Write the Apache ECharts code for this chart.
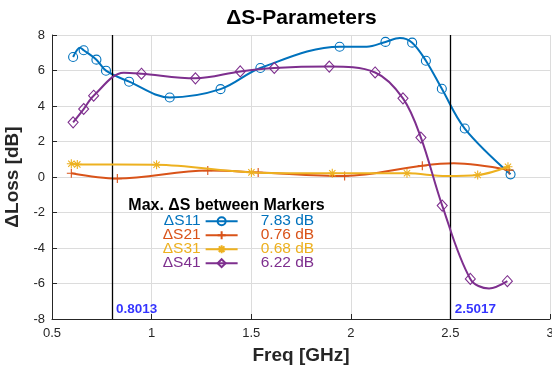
<!DOCTYPE html>
<html>
<head>
<meta charset="utf-8">
<script src="https://cdn.jsdelivr.net/npm/echarts@6/dist/echarts.min.js"></script>
<style>
  html, body { margin: 0; padding: 0; background: #fff; }
  #chart { width: 552px; height: 371px; }
</style>
</head>
<body>
<div id="chart"></div>
<script>
// curve samples, mark = 1 where a symbol is drawn
var s11Freq = [0.606, 0.641, 0.659, 0.723, 0.771, 0.887, 1.091, 1.346, 1.546, 1.944, 2.080, 2.174, 2.246, 2.308, 2.377, 2.457, 2.572, 2.802];
var s11Loss = [6.76, 7.28, 7.14, 6.61, 5.99, 5.37, 4.48, 4.95, 6.14, 7.34, 7.34, 7.61, 7.83, 7.57, 6.55, 4.97, 2.73, 0.15];
var s11Mark = [1, 0, 1, 1, 1, 1, 1, 1, 1, 1, 0, 1, 0, 1, 1, 1, 1, 1];

var s21Freq = [0.597, 0.828, 1.282, 1.535, 1.969, 2.359, 2.517, 2.795];
var s21Loss = [0.21, -0.09, 0.36, 0.26, 0.06, 0.64, 0.77, 0.39];
var s21Mark = [1, 1, 1, 1, 1, 1, 0, 1];

var s31Freq = [0.597, 0.627, 1.025, 1.501, 1.907, 2.282, 2.480, 2.637, 2.789];
var s31Loss = [0.75, 0.71, 0.69, 0.26, 0.21, 0.21, 0.05, 0.11, 0.58];
var s31Mark = [1, 1, 1, 1, 1, 1, 0, 1, 1];

var s41Freq = [0.606, 0.659, 0.709, 0.860, 0.949, 1.220, 1.445, 1.616, 1.892, 2.122, 2.262, 2.352, 2.459, 2.600, 2.694, 2.786];
var s41Loss = [3.08, 3.83, 4.58, 5.88, 5.82, 5.56, 5.95, 6.14, 6.22, 5.89, 4.43, 2.22, -1.61, -5.74, -6.28, -5.87];
var s41Mark = [1, 1, 1, 0, 1, 1, 1, 1, 1, 1, 1, 1, 1, 1, 0, 1];

var seriesNames = ['ΔS11', 'ΔS21', 'ΔS31', 'ΔS41'];
var maxDeltaLabels = ['7.83 dB', '0.76 dB', '0.68 dB', '6.22 dB'];
var markerFreqs = [0.8013, 2.5017];

var colors = ['#0072BD', '#D95319', '#EDB120', '#7E2F8E'];
var symbols = [
    'path://M10,0A10,10,0,1,1,-10,0A10,10,0,1,1,10,0Z',
    'path://M0,-10L0,10M-10,0L10,0',
    'path://M0,-10L0,10M-10,0L10,0M-7,-7L7,7M-7,7L7,-7',
    'path://M0,-10L10,0L0,10L-10,0Z'
];
var symbolSizes = [9, 9, 9, [10, 11]];
var fontFam = '"Liberation Sans", Arial, sans-serif';

function buildData(freq, loss, mark){
    var out = [];
    for (var i = 0; i < freq.length; i++) {
        var item = { value: [freq[i], loss[i]] };
        if (!mark[i]) item.symbol = 'none';
        out.push(item);
    }
    return out;
}

var curves = [
    buildData(s11Freq, s11Loss, s11Mark),
    buildData(s21Freq, s21Loss, s21Mark),
    buildData(s31Freq, s31Loss, s31Mark),
    buildData(s41Freq, s41Loss, s41Mark)
];

var series = [];
for (var k = 0; k < 4; k++) {
    series.push({
        name: seriesNames[k],
        type: 'line',
        smooth: 0.35,
        data: curves[k],
        symbol: symbols[k],
        symbolSize: symbolSizes[k],
        symbolKeepAspect: true,
        showAllSymbol: true,
        lineStyle: { color: colors[k], width: 2 },
        itemStyle: { color: 'transparent', borderColor: colors[k], borderWidth: 1.1 },
        emphasis: { disabled: true },
        z: 3 + k
    });
}

// marker lines
series[0].markLine = {
    silent: true,
    symbol: ['none', 'none'],
    label: { show: false },
    lineStyle: { color: '#000', width: 1.3, type: 'solid' },
    data: markerFreqs.map(function(f){ return { xAxis: f }; })
};

// marker value labels near the bottom
series.push({
    type: 'scatter',
    symbolSize: 0,
    silent: true,
    data: markerFreqs.map(function(f){ return [f, -7.43]; }),
    label: {
        show: true,
        position: 'right',
        distance: 4,
        formatter: function(p){ return p.value[0].toFixed(4); },
        color: '#0000FF',
        fontWeight: 'bold',
        fontSize: 13.5,
        fontFamily: fontFam
    },
    z: 10
});

var rich = {};
var valText = [];
for (var r = 0; r < 4; r++) {
    rich['v' + r] = { color: colors[r], fontSize: 15.5, fontWeight: 'normal', lineHeight: 14, fontFamily: fontFam };
    valText.push('{v' + r + '|' + maxDeltaLabels[r] + '}');
}

var myChart = echarts.init(document.getElementById('chart'), null, { renderer: 'canvas' });
var option = {
    animation: false,
    backgroundColor: '#fff',
    title: [
        {
            text: 'ΔS-Parameters',
            left: 301.5, top: 8, padding: 0,
            textAlign: 'center',
            textStyle: { fontSize: 21, fontWeight: 'bold', color: '#000', fontFamily: fontFam }
        },
        {
            text: 'Max. ΔS between Markers',
            left: 128.3, top: 198, padding: 0,
            textStyle: { fontSize: 16, fontWeight: 'bold', color: '#000', lineHeight: 16, fontFamily: fontFam }
        },
        {
            text: valText.join('\n'),
            left: 260.7, top: 213.7, padding: 0,
            textStyle: { rich: rich, fontWeight: 'normal', lineHeight: 14 }
        }
    ],
    legend: {
        orient: 'vertical',
        left: 162.7, top: 213.2, padding: 0,
        align: 'right',
        itemGap: -2,
        itemWidth: 32,
        itemHeight: 10,
        selectedMode: false,
        data: seriesNames.map(function(n, i){ return { name: n, textStyle: { color: colors[i] } }; }),
        textStyle: { fontSize: 15.5, lineHeight: 14, fontFamily: fontFam }
    },
    grid: { left: 52, right: 2, top: 35, bottom: 52, outerBoundsMode: 'none' },
    xAxis: {
        type: 'value',
        min: 0.5, max: 3, interval: 0.5,
        name: 'Freq [GHz]',
        nameLocation: 'middle',
        nameGap: 27,
        nameTextStyle: { fontSize: 19, fontWeight: 'bold', color: '#262626', fontFamily: fontFam },
        axisLine: { onZero: false, lineStyle: { color: '#262626', width: 1 } },
        axisTick: { inside: true, length: 5, lineStyle: { color: '#262626' } },
        axisLabel: { fontSize: 13, color: '#262626', margin: 8, fontFamily: fontFam },
        splitLine: { show: true, lineStyle: { color: '#dcdcdc', width: 1 } }
    },
    yAxis: {
        type: 'value',
        min: -8, max: 8, interval: 2,
        name: 'ΔLoss [dB]',
        nameLocation: 'middle',
        nameGap: 23,
        nameTextStyle: { fontSize: 19, fontWeight: 'bold', color: '#262626', fontFamily: fontFam },
        axisLine: { onZero: false, lineStyle: { color: '#262626', width: 1 } },
        axisTick: { inside: true, length: 5, lineStyle: { color: '#262626' } },
        axisLabel: { fontSize: 13, color: '#262626', margin: 7, fontFamily: fontFam },
        splitLine: { show: true, lineStyle: { color: '#dcdcdc', width: 1 } }
    },
    series: series
};
myChart.setOption(option);
</script>
</body>
</html>
